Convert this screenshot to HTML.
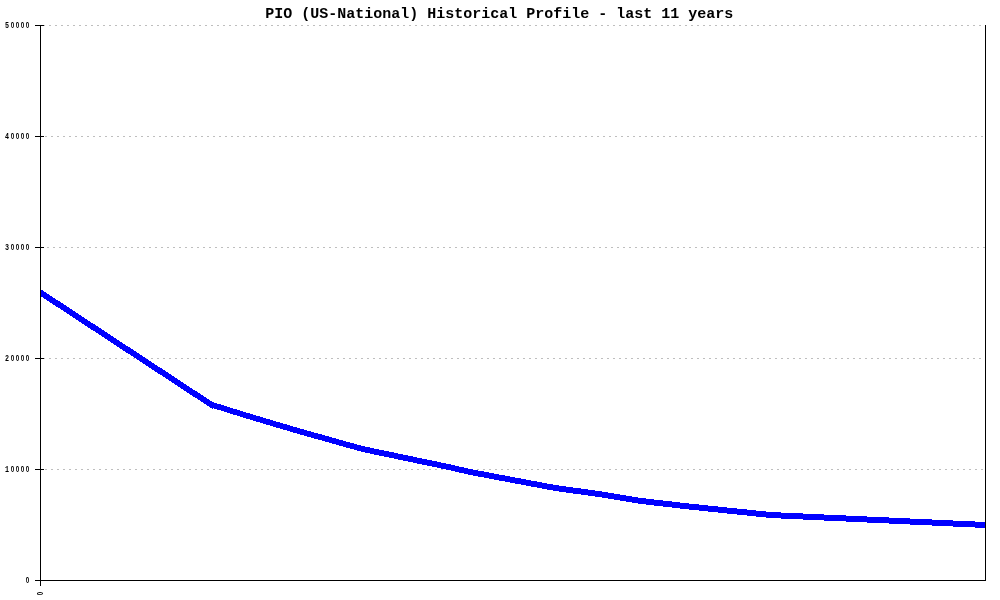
<!DOCTYPE html>
<html lang="en">
<head>
<meta charset="utf-8">
<title>PIO (US-National) Historical Profile - last 11 years</title>
<style>
html,body{margin:0;padding:0;background:#fff;}
body{width:1000px;height:600px;overflow:hidden;}
svg{display:block;}
.title{font-family:"Liberation Mono",monospace;font-size:15px;font-weight:bold;fill:#000;}
.lead{font-family:"Liberation Mono",monospace;font-size:9.6px;}
.lab{font-family:"Liberation Sans",sans-serif;font-size:8.8px;font-weight:bold;fill:#000;text-anchor:middle;}
</style>
</head>
<body>
<svg width="1000" height="600" viewBox="0 0 1000 600">
<rect width="1000" height="600" fill="#fff"/>
<g shape-rendering="crispEdges">
<line class="grid" x1="43" y1="25.5" x2="985" y2="25.5" stroke="#bebebe" stroke-width="1" stroke-dasharray="2 4"/>
<line class="grid" x1="45" y1="136.5" x2="985" y2="136.5" stroke="#bebebe" stroke-width="1" stroke-dasharray="2 4"/>
<line class="grid" x1="41" y1="247.5" x2="985" y2="247.5" stroke="#bebebe" stroke-width="1" stroke-dasharray="2 4"/>
<line class="grid" x1="43" y1="358.5" x2="985" y2="358.5" stroke="#bebebe" stroke-width="1" stroke-dasharray="2 4"/>
<line class="grid" x1="45" y1="469.5" x2="985" y2="469.5" stroke="#bebebe" stroke-width="1" stroke-dasharray="2 4"/>
<path class="series" d="M40 289h1v7h-1zM41 290h2v7h-2zM43 291h1v7h-1zM44 292h2v7h-2zM46 293h1v7h-1zM47 294h2v7h-2zM49 295h1v7h-1zM50 296h2v7h-2zM52 297h1v7h-1zM53 298h2v7h-2zM55 299h1v7h-1zM56 300h2v7h-2zM58 301h2v7h-2zM60 302h1v7h-1zM61 303h2v7h-2zM63 304h1v7h-1zM64 305h2v7h-2zM66 306h1v7h-1zM67 307h2v7h-2zM69 308h1v7h-1zM70 309h2v7h-2zM72 310h1v7h-1zM73 311h2v7h-2zM75 312h1v7h-1zM76 313h2v7h-2zM78 314h1v7h-1zM79 315h2v7h-2zM81 316h1v7h-1zM82 317h2v7h-2zM84 318h1v7h-1zM85 319h2v7h-2zM87 320h1v7h-1zM88 321h2v7h-2zM90 322h1v7h-1zM91 323h2v7h-2zM93 324h2v7h-2zM95 325h1v7h-1zM96 326h2v7h-2zM98 327h1v7h-1zM99 328h2v7h-2zM101 329h1v7h-1zM102 330h2v7h-2zM104 331h1v7h-1zM105 332h2v7h-2zM107 333h1v7h-1zM108 334h2v7h-2zM110 335h1v7h-1zM111 336h2v7h-2zM113 337h1v7h-1zM114 338h2v7h-2zM116 339h1v7h-1zM117 340h2v7h-2zM119 341h1v7h-1zM120 342h2v7h-2zM122 343h1v7h-1zM123 344h2v7h-2zM125 345h1v7h-1zM126 346h2v7h-2zM128 347h2v7h-2zM130 348h1v7h-1zM131 349h2v7h-2zM133 350h1v7h-1zM134 351h2v7h-2zM136 352h1v7h-1zM137 353h2v7h-2zM139 354h1v7h-1zM140 355h2v7h-2zM142 356h1v7h-1zM143 357h2v7h-2zM145 358h1v7h-1zM146 359h2v7h-2zM148 360h1v7h-1zM149 361h2v7h-2zM151 362h1v7h-1zM152 363h2v7h-2zM154 364h1v7h-1zM155 365h2v7h-2zM157 366h1v7h-1zM158 367h2v7h-2zM160 368h2v7h-2zM162 369h1v7h-1zM163 370h2v7h-2zM165 371h1v7h-1zM166 372h2v7h-2zM168 373h1v7h-1zM169 374h2v7h-2zM171 375h1v7h-1zM172 376h2v7h-2zM174 377h1v7h-1zM175 378h2v7h-2zM177 379h1v7h-1zM178 380h2v7h-2zM180 381h1v7h-1zM181 382h2v7h-2zM183 383h1v7h-1zM184 384h2v7h-2zM186 385h1v7h-1zM187 386h2v7h-2zM189 387h1v7h-1zM190 388h2v7h-2zM192 389h1v7h-1zM193 390h2v7h-2zM195 391h2v7h-2zM197 392h1v7h-1zM198 393h2v7h-2zM200 394h1v7h-1zM201 395h2v7h-2zM203 396h1v7h-1zM204 397h2v7h-2zM206 398h1v7h-1zM207 399h2v7h-2zM209 400h1v7h-1zM210 401h2v7h-2zM212 402h1v7h-1zM213 402h1v6h-1zM214 403h3v6h-3zM217 404h4v6h-4zM221 405h3v6h-3zM224 406h3v6h-3zM227 407h3v6h-3zM230 408h3v6h-3zM233 409h4v6h-4zM237 410h3v6h-3zM240 411h3v6h-3zM243 412h3v6h-3zM246 413h4v6h-4zM250 414h3v6h-3zM253 415h3v6h-3zM256 416h4v6h-4zM260 417h3v6h-3zM263 418h3v6h-3zM266 419h4v6h-4zM270 420h3v6h-3zM273 421h3v6h-3zM276 422h4v6h-4zM280 423h3v6h-3zM283 424h4v6h-4zM287 425h3v6h-3zM290 426h3v6h-3zM293 427h4v6h-4zM297 428h3v6h-3zM300 429h4v6h-4zM304 430h3v6h-3zM307 431h4v6h-4zM311 432h3v6h-3zM314 433h4v6h-4zM318 434h4v6h-4zM322 435h3v6h-3zM325 436h4v6h-4zM329 437h3v6h-3zM332 438h4v6h-4zM336 439h3v6h-3zM339 440h4v6h-4zM343 441h3v6h-3zM346 442h4v6h-4zM350 443h4v6h-4zM354 444h3v6h-3zM357 445h4v6h-4zM361 446h4v6h-4zM365 447h5v6h-5zM370 448h4v6h-4zM374 449h5v6h-5zM379 450h5v6h-5zM384 451h5v6h-5zM389 452h5v6h-5zM394 453h4v6h-4zM398 454h5v6h-5zM403 455h5v6h-5zM408 456h5v6h-5zM413 457h4v6h-4zM417 458h5v6h-5zM422 459h5v6h-5zM427 460h5v6h-5zM432 461h5v6h-5zM437 462h4v6h-4zM441 463h5v6h-5zM446 464h5v6h-5zM451 465h4v6h-4zM455 466h4v6h-4zM459 467h5v6h-5zM464 468h4v6h-4zM468 469h5v6h-5zM473 470h5v6h-5zM478 471h6v6h-6zM484 472h5v6h-5zM489 473h5v6h-5zM494 474h5v6h-5zM499 475h6v6h-6zM505 476h5v6h-5zM510 477h5v6h-5zM515 478h6v6h-6zM521 479h5v6h-5zM526 480h5v6h-5zM531 481h6v6h-6zM537 482h5v6h-5zM542 483h5v6h-5zM547 484h6v6h-6zM553 485h6v6h-6zM559 486h7v6h-7zM566 487h7v6h-7zM573 488h8v6h-8zM581 489h7v6h-7zM588 490h7v6h-7zM595 491h7v6h-7zM602 492h6v6h-6zM608 493h6v6h-6zM614 494h6v6h-6zM620 495h6v6h-6zM626 496h6v6h-6zM632 497h6v6h-6zM638 498h8v6h-8zM646 499h8v6h-8zM654 500h9v6h-9zM663 501h9v6h-9zM672 502h8v6h-8zM680 503h9v6h-9zM689 504h10v6h-10zM699 505h9v6h-9zM708 506h10v6h-10zM718 507h9v6h-9zM727 508h10v6h-10zM737 509h10v6h-10zM747 510h9v6h-9zM756 511h10v6h-10zM766 512h15v6h-15zM781 513h22v6h-22zM803 514h21v6h-21zM824 515h22v6h-22zM846 516h21v6h-21zM867 517h22v6h-22zM889 518h21v6h-21zM910 519h22v6h-22zM932 520h21v6h-21zM953 521h22v6h-22zM975 522h11v6h-11z" fill="#0000ff"/>
<rect x="40" y="25" width="1" height="556" fill="#000"/>
<rect x="985" y="25" width="1" height="556" fill="#000"/>
<rect x="40" y="580" width="946" height="1" fill="#000"/>
<rect x="35" y="25" width="9" height="1" fill="#000"/>
<rect x="35" y="136" width="9" height="1" fill="#000"/>
<rect x="35" y="247" width="9" height="1" fill="#000"/>
<rect x="35" y="358" width="9" height="1" fill="#000"/>
<rect x="35" y="469" width="9" height="1" fill="#000"/>
<rect x="35" y="580" width="9" height="1" fill="#000"/>
<rect x="40" y="580" width="1" height="6" fill="#000"/>
</g>
<text class="title" x="265.25" y="18">PIO (US-National) Historical Profile - last 11 years</text>
<text class="lab" transform="scale(0.7 1)" x="10.000 17.857 25.000 32.143 39.286" y="28"><tspan class="lead">5</tspan>0000</text>
<text class="lab" transform="scale(0.7 1)" x="10.000 17.857 25.000 32.143 39.286" y="139"><tspan class="lead">4</tspan>0000</text>
<text class="lab" transform="scale(0.7 1)" x="10.000 17.857 25.000 32.143 39.286" y="250"><tspan class="lead">3</tspan>0000</text>
<text class="lab" transform="scale(0.7 1)" x="10.000 17.857 25.000 32.143 39.286" y="361"><tspan class="lead">2</tspan>0000</text>
<text class="lab" transform="scale(0.7 1)" x="10.000 17.857 25.000 32.143 39.286" y="472"><tspan class="lead">1</tspan>0000</text>
<text class="lab" transform="scale(0.7 1)" x="39.286" y="583">0</text>
<text class="lab" transform="translate(43 593.5) rotate(-90) scale(0.7 1)" x="0" y="0">0</text>
</svg>
</body>
</html>
